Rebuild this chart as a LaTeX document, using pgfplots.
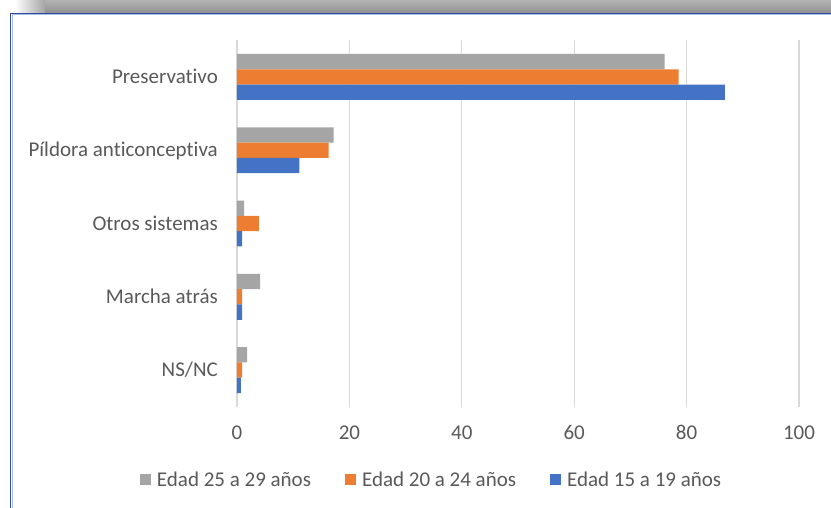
\documentclass[border=0pt]{standalone}
\usepackage{fontspec}
\setmainfont[Ligatures={NoCommon}]{Carlito}
\usepackage{pgfplots}
\pgfplotsset{compat=1.18}
\definecolor{cgray}{HTML}{A5A5A5}
\definecolor{corange}{HTML}{ED7D31}
\definecolor{cblue}{HTML}{4472C4}
\definecolor{gridc}{HTML}{D9D9D9}
\definecolor{txt}{HTML}{595959}
\definecolor{frameblue}{HTML}{2F4B9B}
\definecolor{framelight}{HTML}{A9BCE6}
\definecolor{shadowtop}{HTML}{B4B4B4}
\definecolor{shadowbot}{HTML}{8E8E8E}
\begin{document}
\begin{tikzpicture}[x=1pt,y=1pt]
\useasboundingbox (0,0) rectangle (831,508);
% shadow band and frame
\shade[top color=shadowtop, bottom color=shadowbot] (45,494.5) rectangle (831,508);
\shade[left color=white, right color=shadowbot!80!white] (15,494.5) rectangle (45,508);
\draw[frameblue, line width=1.5pt] (10.5,0) -- (10.5,494.5) -- (831,494.5);
\draw[framelight, line width=1pt] (12,0) -- (12,493) -- (831,493);
\begin{axis}[
  at={(237pt,101.3pt)}, anchor=south west,
  scale only axis, width=562pt, height=366.4pt,
  xbar, bar width=0.209,
  xmin=0, xmax=100, ymin=-0.5, ymax=4.5, y dir=reverse,
  ytick={0,1,2,3,4},
  yticklabels={Preservativo, Píldora anticonceptiva, Otros sistemas, Marcha atrás, NS/NC},
  xtick={0,20,40,60,80,100},
  xmajorgrids, major grid style={gridc, line width=1.3pt},
  axis line style={draw=none},
  major tick length=0pt,
  tick label style={font=\fontsize{21}{25}\selectfont, text=txt, inner sep=0pt},
  xticklabel style={anchor=base, yshift=-32.9pt},
  yticklabel style={anchor=base east, xshift=-19pt, yshift=-6.7pt},
  /pgf/number format/assume math mode=true,
  legend columns=3,
  legend style={at={(-0.1726,-0.2)}, anchor=west, draw=none, fill=none,
    inner sep=0pt, outer sep=0pt,
    font=\fontsize{21}{25}\selectfont, text=txt,
    nodes={inner sep=0pt},
    /tikz/every odd column/.style={column sep=6pt},
    /tikz/every even column/.style={column sep=34pt}},
  legend cell align=left,
  every axis plot post/.append style={legend image code/.code={\fill[##1] (0pt,-5.5pt) rectangle (11pt,5.5pt);}},
]
\addplot[fill=cgray, draw=none, bar shift=-0.209] coordinates {(76.1,0) (17.2,1) (1.25,2) (4.1,3) (1.8,4)};
\addplot[fill=corange, draw=none, bar shift=0] coordinates {(78.6,0) (16.3,1) (3.9,2) (0.9,3) (0.9,4)};
\addplot[fill=cblue, draw=none, bar shift=0.209] coordinates {(86.8,0) (11.1,1) (0.9,2) (0.9,3) (0.7,4)};
\legend{Edad 25 a 29 años, Edad 20 a 24 años, Edad 15 a 19 años}
\end{axis}
\end{tikzpicture}
\end{document}
